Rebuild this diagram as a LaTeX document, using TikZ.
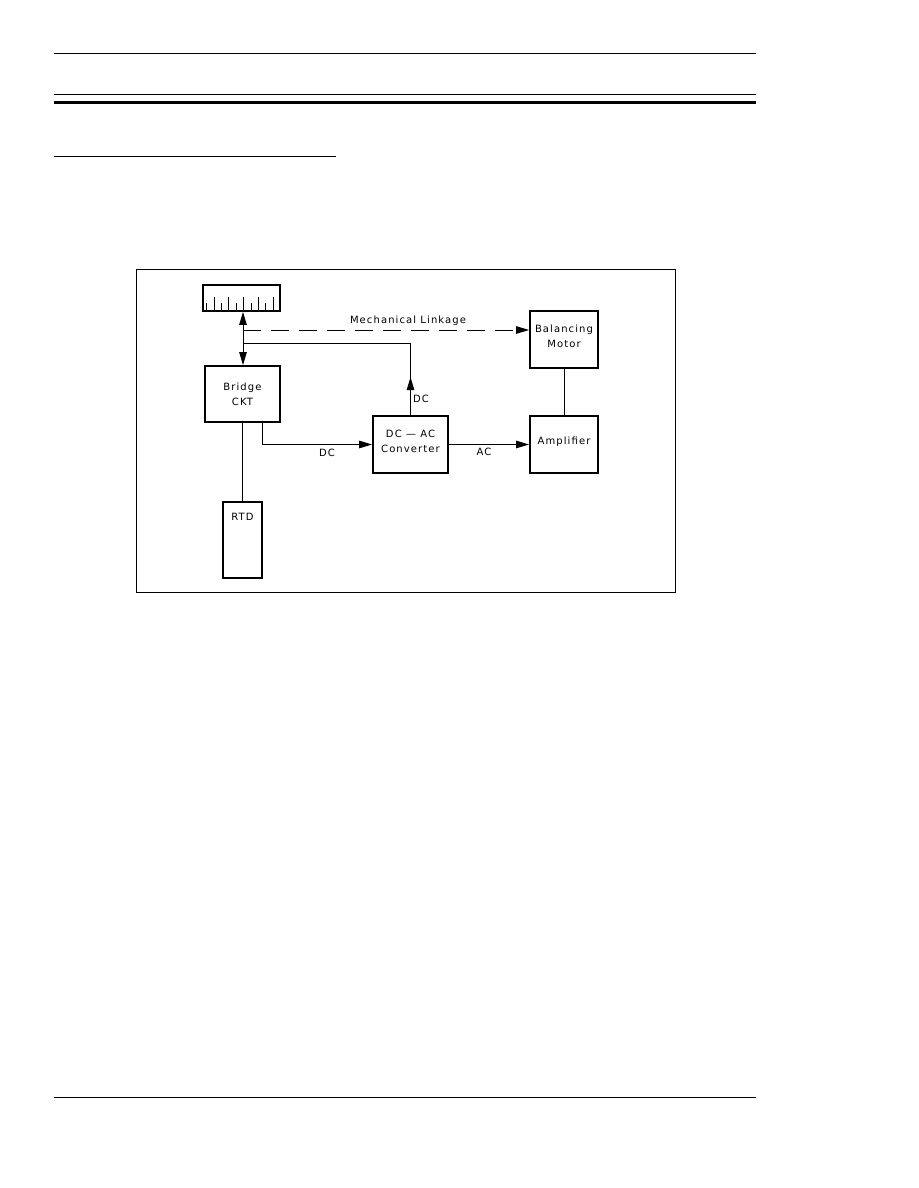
\documentclass[tikz,border=0pt]{standalone}
\usepackage{fontspec}
\setmainfont{DejaVu Sans}[LetterSpace=11]
\usetikzlibrary{arrows.meta,positioning}

\tikzset{
  blk/.style={draw, line width=1.8pt, inner sep=0pt, align=center,
    font=\fontsize{10}{15}\selectfont},
  wire/.style={line width=0.9pt},
  arr/.style={wire, -{Triangle[length=13pt,width=7.5pt]}},
  lbl/.style={inner sep=0pt, font=\fontsize{10}{15}\selectfont},
  rule/.style={line width=1pt},
}

\newcommand{\PageRules}{%
  \draw[rule] (54,54) -- (756,54);
  \draw[rule] (54,95) -- (756,95);
  \draw[line width=2.4pt] (54,102.5) -- (756,102.5);
  \draw[rule] (54,156) -- (336,156);
  \draw[rule] (54,1097) -- (756,1097);
}

\begin{document}
\begin{tikzpicture}[x=1pt,y=-1pt]
  \useasboundingbox (0,0) rectangle (918,1188);
  \PageRules
  \draw[rule] (136,269) rectangle (675,592);

  \node[blk, minimum width=77pt, minimum height=26pt] (meter) at (241.5,298) {};
  \foreach \k in {0,2,4,6,8}
    \draw[wire] ([xshift={4.7+7.37*\k}]meter.south west) -- ++(0,-9);
  \foreach \k in {1,3,5,7,9}
    \draw[wire] ([xshift={4.7+7.37*\k}]meter.south west) -- ++(0,-15);

  \node[blk, minimum width=75pt, minimum height=56pt] (bridge) at (242.5,394) {Bridge\\CKT};
  \node[blk, minimum width=39pt, minimum height=76pt] (rtd) at (242.5,540) {};
  \node[lbl, below=12pt of rtd.north] (rtdtxt) {RTD};
  \node[blk, minimum width=75pt, minimum height=57pt, text depth=6pt] (conv) at (410.5,444.5) {DC\ --- AC\\Converter};
  \node[blk, minimum width=68pt, minimum height=57pt, text depth=6pt] (motor) at (564,339.5) {Balancing\\Motor};
  \node[blk, minimum width=68pt, minimum height=57pt, text depth=8pt] (amp) at (564,444.5) {Amplifier};

  \coordinate (mlk) at (243,330);
  \coordinate (jn) at (243,343);

  \draw[arr, {Triangle[length=13pt,width=7.5pt]}-{Triangle[length=13pt,width=7.5pt]}]
    (bridge.north -| jn) -- (meter.south -| jn);
  \draw[arr, dash pattern=on 18pt off 10pt] (mlk) -- (mlk -| motor.west);
  \draw[arr] (conv.north) -- ++(0,-38);
  \draw[wire] (conv.north) |- (jn);
  \draw[arr] ([xshift=19.5pt]bridge.south) |- (conv.west);
  \draw[arr] (conv.east) -- (amp.west);
  \draw[wire] (motor.south) -- (amp.north);
  \draw[wire] (bridge.south) -- (rtd.north);

  \node[lbl] (mlklbl) at (408,321) {Mechanical Linkage};
  \node[lbl] (dcup) at (421,399) {DC};
  \node[lbl] (dcin) at (327,453) {DC};
  \node[lbl] (acout) at (484,452) {AC};
\end{tikzpicture}
\end{document}
